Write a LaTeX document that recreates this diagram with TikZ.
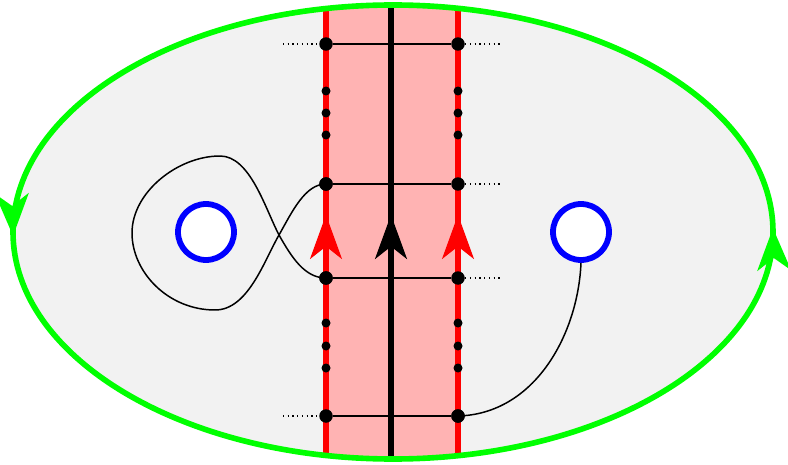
\documentclass[tikz,border=0pt]{standalone}
\usepackage{amsmath}
\usetikzlibrary{arrows.meta}
\usetikzlibrary{decorations.markings}
\tikzset{>=Stealth}
\definecolor{diskgray}{RGB}{242,242,242}
\definecolor{strippink}{RGB}{255,179,179}
\tikzstyle{bigdot} = [circle, fill=black, inner sep=0pt, minimum size=0.27cm]
\tikzstyle{smalldot} = [circle, fill=black, inner sep=0pt, minimum size=0.18cm]
\tikzstyle{hole} = [circle, draw=blue, line width=3.3pt, fill=white,
    inner sep=0pt, minimum size=1.12cm]
\tikzstyle{chord} = [line width=0.85pt]
\tikzstyle{ext} = [dotted, line width=0.7pt]
\tikzstyle{edge} = [color=red, line width=2.9pt]
\tikzstyle{core} = [color=black, line width=3.3pt]
\tikzstyle{upflow} = [postaction={decorate}, decoration={markings,
    mark=at position 0.537 with {\arrow{Stealth[length=25pt,width=18pt,inset=7pt]}}}]
\tikzstyle{boundary} = [color=green, line width=3.2pt, postaction={decorate},
    decoration={markings,
    mark=at position 0.002 with {\arrow{Stealth[length=24pt,width=19pt,inset=7pt]}},
    mark=at position 0.502 with {\arrow{Stealth[length=24pt,width=19pt,inset=7pt]}}}]

\begin{document}
\begin{tikzpicture}[x=0.02cm, y=0.02cm]
    \useasboundingbox (0,0) rectangle (788,464);
    % We start by filling the disk
    \fill [diskgray] (393,232) ellipse [x radius=380, y radius=227];

    % The strip and its three lines live inside the disk only
    \begin{scope}
        \clip (393,232) ellipse [x radius=380, y radius=227];
        \fill [strippink] (326,0) rectangle (458,464);
        \draw [edge, upflow] (326,0) -- (326,464);
        \draw [edge, upflow] (458,0) -- (458,464);
        \draw [core, upflow] (391,0) -- (391,464);
    \end{scope}
    \draw [boundary] (393,232) ellipse [x radius=380, y radius=227];

    % Points on both edges of the strip
    \node [bigdot] (a1) at (326,420) {};
    \node [bigdot] (b1) at (458,420) {};
    \node [bigdot] (a2) at (326,280) {};
    \node [bigdot] (b2) at (458,280) {};
    \node [bigdot] (a3) at (326,186) {};
    \node [bigdot] (b3) at (458,186) {};
    \node [bigdot] (a4) at (326,48) {};
    \node [bigdot] (b4) at (458,48) {};
    \node [smalldot] (au1) at (326,373) {};
    \node [smalldot] (au2) at (326,351) {};
    \node [smalldot] (au3) at (326,329) {};
    \node [smalldot] (bu1) at (458,373) {};
    \node [smalldot] (bu2) at (458,351) {};
    \node [smalldot] (bu3) at (458,329) {};
    \node [smalldot] (ad1) at (326,141) {};
    \node [smalldot] (ad2) at (326,118) {};
    \node [smalldot] (ad3) at (326,96) {};
    \node [smalldot] (bd1) at (458,141) {};
    \node [smalldot] (bd2) at (458,118) {};
    \node [smalldot] (bd3) at (458,96) {};

    % The two holes
    \node [hole] (holeL) at (206,232) {};
    \node [hole] (holeR) at (581,232) {};

    % Free ends of the dotted extensions
    \coordinate (a1x) at (283,420);
    \coordinate (b1x) at (501,420);
    \coordinate (b2x) at (501,280);
    \coordinate (b3x) at (501,186);
    \coordinate (a4x) at (283,48);

    % Chords across the strip
    \draw [chord] (a1) -- (b1);
    \draw [chord] (a2) -- (b2);
    \draw [chord] (a3) -- (b3);
    \draw [chord] (a4) -- (b4);
    \draw [ext] (a1x) -- (a1);
    \draw [ext] (b1) -- (b1x);
    \draw [ext] (b2) -- (b2x);
    \draw [ext] (b3) -- (b3x);
    \draw [ext] (a4x) -- (a4);

    % The loop round the left hole and the arc to the right hole
    \draw [chord] (a2.center) .. controls (305,280) and (292,252) .. (279,229)
        .. controls (264,203) and (248,154) .. (215,154)
        .. controls (168,154) and (132,192) .. (132,231)
        .. controls (132,272) and (178,308) .. (220,308)
        .. controls (250,308) and (265,256) .. (279,229)
        .. controls (292,206) and (305,186) .. (a3.center);
    \draw [chord] (holeR.south) .. controls (578,130) and (535,50) .. (b4.center);

    % Dots again on top of the curves
    \node [bigdot] at (a2) {};
    \node [bigdot] at (a3) {};
    \node [bigdot] at (b4) {};
\end{tikzpicture}
\end{document}
